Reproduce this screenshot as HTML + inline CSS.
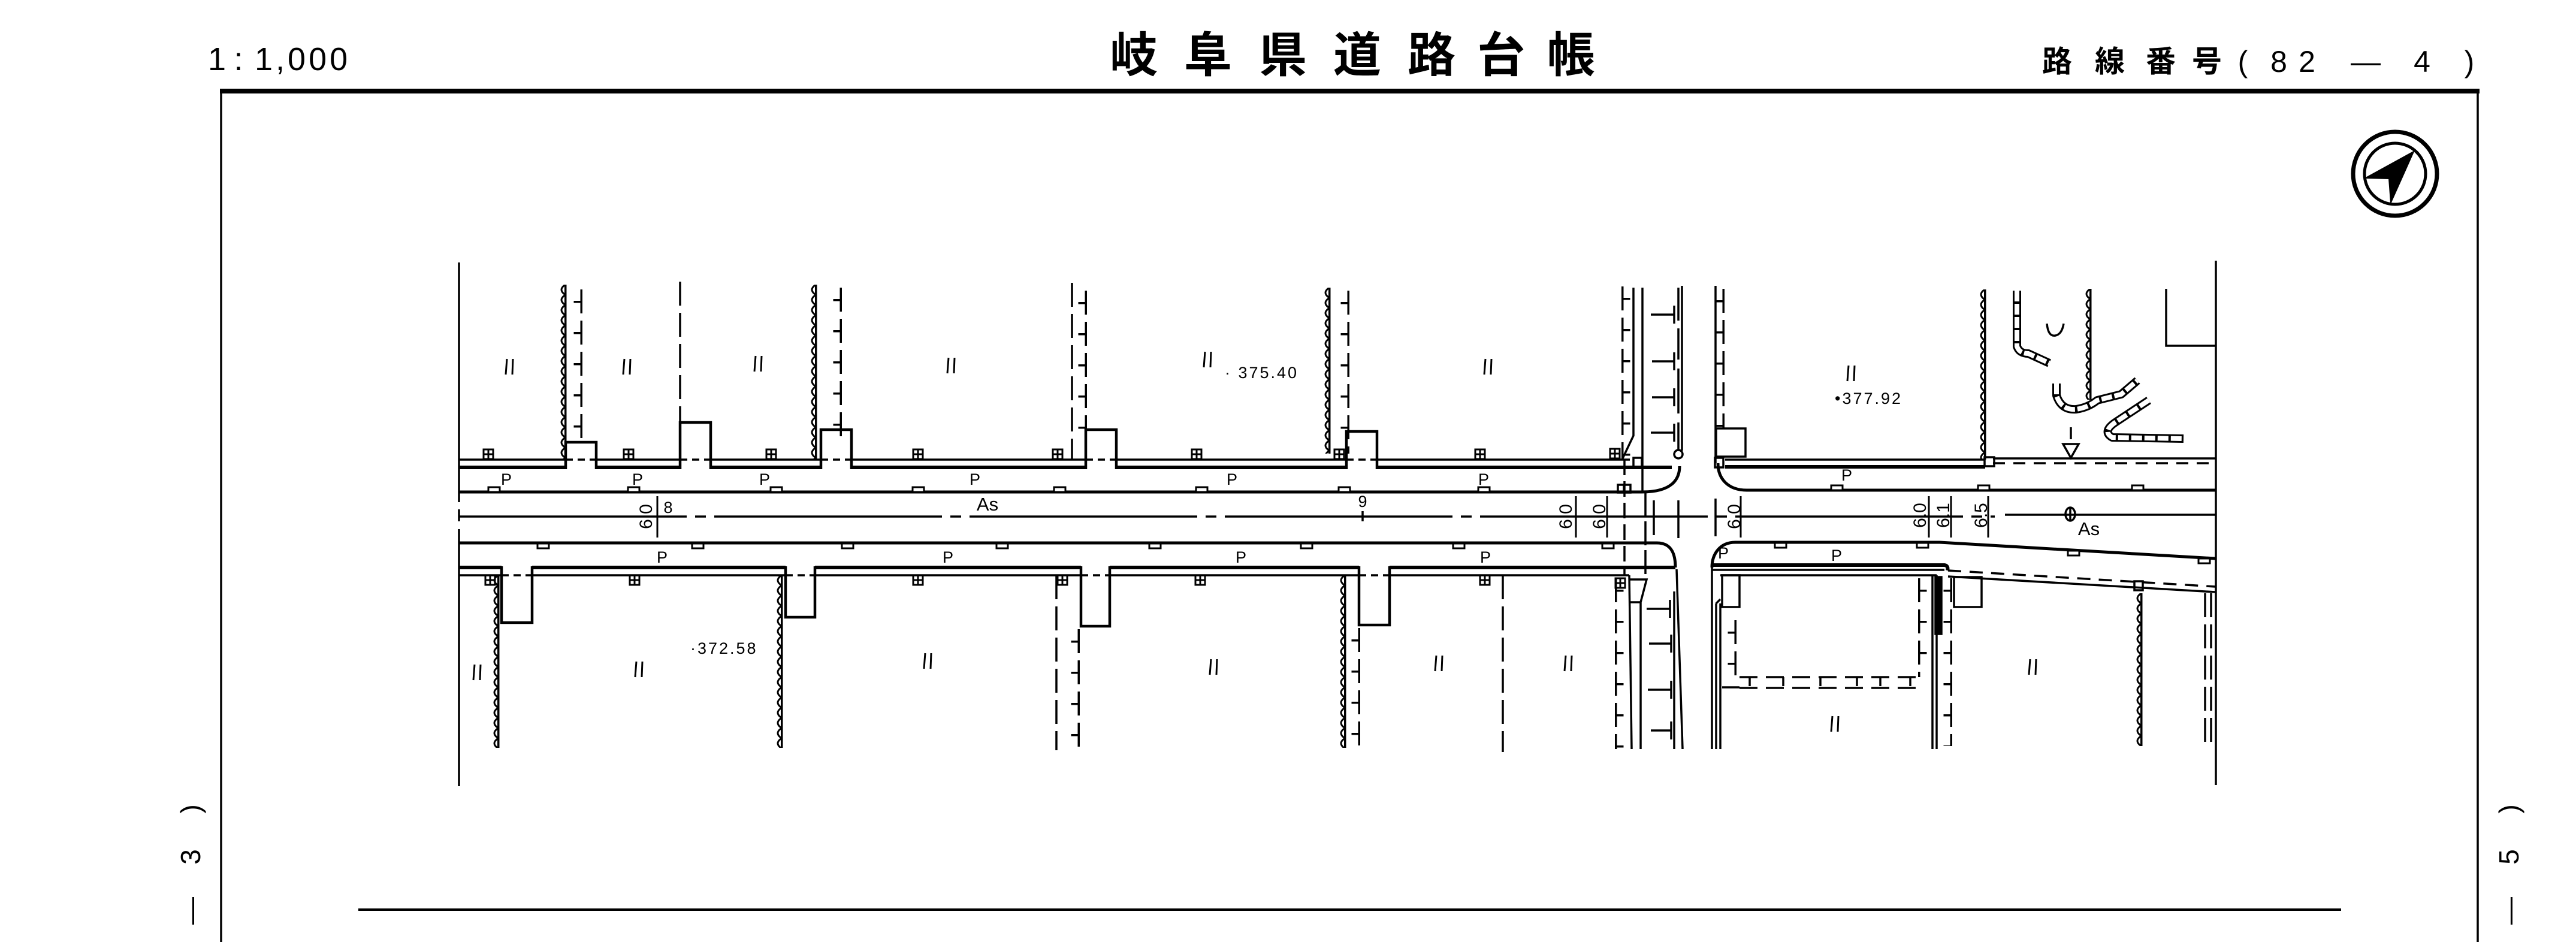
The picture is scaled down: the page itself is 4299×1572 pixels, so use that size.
<!DOCTYPE html>
<html><head><meta charset="utf-8">
<style>
html,body{margin:0;padding:0;background:#fff;}
svg{display:block;}
text{font-family:"Liberation Sans","Noto Sans CJK JP",sans-serif;fill:#000;stroke:none;}
.cjk{font-family:"Liberation Sans","Noto Sans CJK JP",sans-serif;}
</style></head><body>
<svg width="4299" height="1572" viewBox="0 0 4299 1572" xmlns="http://www.w3.org/2000/svg">
<defs>
 <pattern id="hg" patternUnits="userSpaceOnUse" width="14" height="17">
  <path d="M12 0 Q-1 8.5 12 17" fill="none" stroke="#000" stroke-width="3"/>
  <rect x="10.5" y="0" width="3.5" height="17" fill="#000"/>
 </pattern>
 <pattern id="fl" patternUnits="userSpaceOnUse" width="16" height="52">
  <rect x="12" y="5" width="3.5" height="40" fill="#000"/>
  <rect x="1" y="24" width="12" height="3.5" fill="#000"/>
 </pattern>
 <pattern id="fr" patternUnits="userSpaceOnUse" width="16" height="52">
  <rect x="0.5" y="5" width="3.5" height="40" fill="#000"/>
  <rect x="3" y="24" width="12" height="3.5" fill="#000"/>
 </pattern>
 <g id="ta" stroke="#000" stroke-width="3" fill="none">
  <line x1="-6" y1="13" x2="-4" y2="-13"/><line x1="5" y1="13" x2="6" y2="-13"/>
 </g>
 <g id="mh" stroke="#000" stroke-width="3" fill="none">
  <rect x="-8" y="-8" width="16" height="16"/><line x1="0" y1="-8" x2="0" y2="8"/><line x1="-8" y1="0" x2="8" y2="0"/>
 </g>
</defs>

<rect x="0" y="0" width="4299" height="1572" fill="#fff"/>

<!-- header -->
<text x="362" y="117" font-size="54" text-anchor="middle">1</text>
<text x="398" y="117" font-size="54" text-anchor="middle">:</text>
<text x="425" y="117" font-size="54" letter-spacing="5">1,000</text>

<g font-size="80" font-weight="bold" text-anchor="middle" class="cjk">
 <text x="1892" y="120">岐</text><text x="2016" y="120">阜</text><text x="2141" y="120">県</text>
 <text x="2265" y="120">道</text><text x="2389" y="120">路</text><text x="2505" y="120">台</text>
 <text x="2622" y="120">帳</text>
</g>
<g font-size="50" text-anchor="middle" class="cjk" font-weight="bold">
 <text x="3433" y="120">路</text><text x="3521" y="120">線</text><text x="3606" y="120">番</text>
 <text x="3683" y="120">号</text>
</g>
<g font-size="50" text-anchor="middle">
 <text x="3743" y="120">(</text><text x="3803" y="120">8</text>
 <text x="3850" y="120">2</text><text x="3948" y="120">—</text><text x="4042" y="120">4</text>
 <text x="4121" y="120">)</text>
</g>

<!-- frame -->
<g stroke="#000" fill="none">
 <line x1="367" y1="152" x2="4138" y2="152" stroke-width="8"/>
 <line x1="369" y1="150" x2="369" y2="1572" stroke-width="3.5"/>
 <line x1="4135" y1="150" x2="4135" y2="1572" stroke-width="3.5"/>
 <line x1="598" y1="1518" x2="3907" y2="1518" stroke-width="4"/>
</g>

<!-- side rotated texts -->
<g font-size="46" text-anchor="middle">
 <text transform="translate(318,1350) rotate(-90)" x="0" y="16">)</text>
 <text transform="translate(318,1430) rotate(-90)" x="0" y="16">3</text>
 <text transform="translate(318,1520) rotate(-90)" x="0" y="16">—</text>
 <text transform="translate(318,1592) rotate(-90)" x="0" y="16">2</text>
 <text transform="translate(4187,1350) rotate(-90)" x="0" y="16">)</text>
 <text transform="translate(4187,1430) rotate(-90)" x="0" y="16">5</text>
 <text transform="translate(4187,1520) rotate(-90)" x="0" y="16">—</text>
 <text transform="translate(4187,1592) rotate(-90)" x="0" y="16">2</text>
</g>

<!-- compass -->
<g stroke="#000" fill="none">
 <circle cx="3997" cy="290" r="70" stroke-width="7"/>
 <circle cx="3997" cy="290" r="51" stroke-width="5"/>
 <polygon points="4028,253 3948,297 3987,298 3990,338" fill="#000" stroke-width="2"/>
</g>

<!-- MAP -->
<g stroke="#000" fill="none" stroke-width="3.5">
 <!-- borders -->
 <path d="M766 438V838M766 850V870M766 883V1312"/>
 <path d="M3698 435V1310"/>

 <!-- upper building line -->
 <path d="M766 767H944M995 767H1135M1186 767H1370M1421 767H1812M1863 767H2247M2298 767H2720"/>
 <path d="M944 767H995M1135 767H1186M1370 767H1421M1812 767H1863M2247 767H2298" stroke-dasharray="12 8"/>
 <path d="M766 780H944M995 780H1135M1186 780H1370M1421 780H1812M1863 780H2247M2298 780H2790" stroke-width="6"/>
 <path d="M944 783V738H995V783M1135 783V705H1186V783M1370 783V717H1421V783M1812 783V717H1863V783M2247 783V720H2298V783" stroke-width="4.5"/>

 <!-- upper right sidewalk -->
 <path d="M2879 767H3313"/>
 <path d="M2879 779H3313" stroke-width="6"/>
 <path d="M3326 765H3698"/>
 <path d="M3326 773H3698" stroke-dasharray="20 14"/>

 <!-- road edges -->
 <path d="M766 821H2740C2790 821 2803 800 2803 778" stroke-width="5"/>
 <path d="M2867 773C2867 800 2885 818 2915 818H3698" stroke-width="5"/>
 <path d="M766 906H2765C2790 906 2796 925 2796 947" stroke-width="5"/>
 <path d="M2857 947C2857 925 2870 905 2896 905H3237L3697 932" stroke-width="5"/>

 <!-- center line -->
 <path d="M766 862H3329" stroke-dasharray="380 14 18 14"/>
 <path d="M3346 859H3698"/>

 <!-- lower sidewalk -->
 <path d="M766 947H837M888 947H1311M1360 947H1804M1852 947H2268M2319 947H2796" stroke-width="6"/>
 <path d="M766 960H837M888 960H1311M1360 960H1804M1852 960H2268M2319 960H2719"/>
 <path d="M837 960H888M1311 960H1360M1804 960H1852M2268 960H2319" stroke-dasharray="12 8"/>
 <path d="M837 945V1039H888V945M1311 945V1030H1360V945M1804 945V1045H1852V945M2268 945V1043H2319V945" stroke-width="4.5"/>
 <path d="M2857 943H3245Q3252 944 3250 952" stroke-width="6"/>
 <path d="M2857 951H3245"/>
 <path d="M2871 960H3232"/>
 <path d="M3251 952L3697 979" stroke-dasharray="22 14"/>
 <path d="M3251 962L3697 988"/>

 <!-- small boxes -->
 <rect x="2864" y="715" width="49" height="47"/>
 <rect x="2874" y="960" width="29" height="53"/>
 <rect x="3261" y="963" width="46" height="50"/>
 <rect x="2726" y="764" width="14" height="16"/>
 <rect x="2862" y="764" width="14" height="16"/>
 <rect x="3312" y="763" width="16" height="15"/>
 <rect x="3562" y="970" width="14" height="15"/>
 <rect x="2700" y="809" width="21" height="13"/>
 <path d="M2710 809V822"/>
 <circle cx="2801" cy="758" r="7"/>

 <!-- dashed verticals -->
 <g stroke-dasharray="40 12">
  <path d="M1135 470V705"/>
  <path d="M1789 472V767"/>
  <path d="M1763 960V1252"/>
  <path d="M2508 960V1255"/>
  <path d="M3680 990V1245M3690 990V1245"/>
 </g>

 <!-- side road north -->
 <path d="M2726 480V727L2707 767"/>
 <path d="M2741 480V822"/>
 <path d="M2807 477V752"/>
 <path d="M2801 480V535M2801 548V600M2801 615V690M2801 705V750"/>
 <path d="M2755 525H2794M2794 510V540M2757 603H2794M2794 588V618M2757 663H2794M2794 648V678M2755 722H2794M2794 707V737"/>
 <path d="M2863 477V773"/>
 <!-- intersection crossing lines -->
 <path d="M2711 767V960" stroke-dasharray="26 10"/>
 <path d="M2746 822V960" stroke-dasharray="40 8"/>
 <path d="M2760 835V893M2801 835V898M2863 832V895"/>
 <!-- width label ticks -->
 <path d="M1097 828V897M2630 828V897M2682 828V897M2905 828V897M3219 828V897M3256 828V897M3318 828V897" stroke-width="3"/>
 <path d="M2274 853V870"/>

 <!-- side road south -->
 <path d="M2719 960L2723 1250"/>
 <path d="M2719 967H2748L2738 1005V1250M2719 1005H2738"/>
 <path d="M2794 987V1250"/>
 <path d="M2798 950L2808 1250"/>
 <path d="M2748 1016H2787M2787 1001V1031M2752 1074H2789M2789 1059V1089M2750 1151H2789M2789 1136V1166M2755 1219H2789M2789 1204V1234"/>
 <path d="M2857 947V1250M2864 1007V1250M2871 1007V1250M2864 1007L2871 1000"/>

 <!-- lower right parcels -->
 <path d="M2903 1130H3203M2903 1148H3203" stroke-dasharray="30 14"/>
 <path d="M2874 1147H2903"/>
 <path d="M2920 1130V1145M2976 1130V1145M3038 1130V1145M3099 1130V1145M3138 1130V1145M3188 1130V1145"/>
 <path d="M3225 960V1250M3232 960V1250"/>
 <rect x="3230" y="963" width="10" height="95" fill="#000"/>

 <!-- top right features -->
 <path d="M3615 482V577H3697"/>
 <polygon points="3443,741 3469,741 3456,764"/>
 <path d="M3456 713V733"/>
 <ellipse cx="3455" cy="858" rx="8" ry="11"/>
 <path d="M3455 846V870"/>
 <path d="M3416 540Q3418 562 3430 560Q3441 558 3444 540"/>

 <!-- chain hedges -->
 <g stroke-width="14" stroke-linejoin="round">
  <path d="M3366 485V578Q3370 590 3385 590L3420 606"/>
  <path d="M3432 640V660Q3440 685 3465 683Q3485 680 3500 668L3540 658L3567 635"/>
  <path d="M3586 668L3530 705Q3508 720 3525 730L3644 732"/>
 </g>
 <g stroke-width="8" stroke="#fff" stroke-dasharray="18 4">
  <path d="M3366 485V578Q3370 590 3385 590L3420 606"/>
  <path d="M3432 640V660Q3440 685 3465 683Q3485 680 3500 668L3540 658L3567 635"/>
  <path d="M3586 668L3530 705Q3508 720 3525 730L3644 732"/>
 </g>
</g>

<!-- hedges (scalloped) -->
<g>
 <rect transform="translate(931.5,475)" width="14" height="292" fill="url(#hg)"/>
 <rect transform="translate(1349.5,475)" width="14" height="292" fill="url(#hg)"/>
 <rect transform="translate(2206.5,480)" width="14" height="277" fill="url(#hg)"/>
 <rect transform="translate(3300.5,483)" width="14" height="284" fill="url(#hg)"/>
 <rect transform="translate(3476.5,482)" width="14" height="185" fill="url(#hg)"/>
 <rect transform="translate(819.5,960)" width="14" height="288" fill="url(#hg)"/>
 <rect transform="translate(1292.5,960)" width="14" height="288" fill="url(#hg)"/>
 <rect transform="translate(2232.5,960)" width="14" height="288" fill="url(#hg)"/>
 <rect transform="translate(3561.5,990)" width="14" height="255" fill="url(#hg)"/>
</g>

<!-- fences -->
<g>
 <rect transform="translate(956.5,478)" width="16" height="257" fill="url(#fl)"/>
 <rect transform="translate(1389.5,475)" width="16" height="260" fill="url(#fl)"/>
 <rect transform="translate(1798.5,480)" width="16" height="280" fill="url(#fl)"/>
 <rect transform="translate(2236.5,480)" width="16" height="277" fill="url(#fl)"/>
 <rect transform="translate(2705.5,473)" width="16" height="294" fill="url(#fr)"/>
 <rect transform="translate(2862.5,477)" width="16" height="238" fill="url(#fl)"/>
 <rect transform="translate(1786.5,1045)" width="16" height="207" fill="url(#fl)"/>
 <rect transform="translate(2254.5,1043)" width="16" height="207" fill="url(#fl)"/>
 <rect transform="translate(2694.5,960)" width="16" height="290" fill="url(#fr)"/>
 <rect transform="translate(2882.5,1030)" width="16" height="100" fill="url(#fl)"/>
 <rect transform="translate(3200.5,960)" width="16" height="170" fill="url(#fr)"/>
 <rect transform="translate(3242.5,960)" width="16" height="285" fill="url(#fl)"/>
</g>

<!-- curb rectangles -->
<g stroke="#000" fill="#fff" stroke-width="3">
 <rect x="815" y="813" width="19" height="8"/><rect x="1048" y="813" width="19" height="8"/>
 <rect x="1286" y="813" width="19" height="8"/><rect x="1523" y="813" width="19" height="8"/>
 <rect x="1759" y="813" width="19" height="8"/><rect x="1996" y="813" width="19" height="8"/>
 <rect x="2234" y="813" width="19" height="8"/><rect x="2467" y="813" width="19" height="8"/>
 <rect x="3056" y="810" width="19" height="8"/><rect x="3301" y="810" width="19" height="8"/>
 <rect x="3558" y="810" width="19" height="8"/>
 <rect x="897" y="907" width="19" height="8"/><rect x="1155" y="907" width="19" height="8"/>
 <rect x="1405" y="907" width="19" height="8"/><rect x="1663" y="907" width="19" height="8"/>
 <rect x="1918" y="907" width="19" height="8"/><rect x="2171" y="907" width="19" height="8"/>
 <rect x="2425" y="907" width="19" height="8"/><rect x="2674" y="907" width="19" height="8"/>
 <rect x="2962" y="906" width="19" height="8"/><rect x="3199" y="906" width="19" height="8"/>
 <rect x="3451" y="919" width="19" height="8"/><rect x="3669" y="932" width="19" height="8"/>
</g>

<!-- manholes -->
<g>
 <use href="#mh" x="815" y="758"/><use href="#mh" x="1049" y="758"/><use href="#mh" x="1287" y="758"/>
 <use href="#mh" x="1532" y="758"/><use href="#mh" x="1765" y="758"/><use href="#mh" x="1997" y="758"/>
 <use href="#mh" x="2235" y="758"/><use href="#mh" x="2470" y="758"/><use href="#mh" x="2695" y="757"/>
 <use href="#mh" x="818" y="968"/><use href="#mh" x="1059" y="968"/><use href="#mh" x="1532" y="968"/>
 <use href="#mh" x="1773" y="968"/><use href="#mh" x="2003" y="968"/><use href="#mh" x="2478" y="968"/>
 <use href="#mh" x="2704" y="973"/>
</g>

<!-- paddy symbols -->
<g>
 <use href="#ta" x="850" y="612"/><use href="#ta" x="1046" y="612"/><use href="#ta" x="1265" y="607"/>
 <use href="#ta" x="1587" y="610"/><use href="#ta" x="2015" y="600"/><use href="#ta" x="2483" y="612"/>
 <use href="#ta" x="3089" y="623"/>
 <use href="#ta" x="796" y="1122"/><use href="#ta" x="1066" y="1117"/><use href="#ta" x="1548" y="1103"/>
 <use href="#ta" x="2025" y="1113"/><use href="#ta" x="2401" y="1107"/><use href="#ta" x="2617" y="1107"/>
 <use href="#ta" x="3062" y="1208"/><use href="#ta" x="3392" y="1113"/>
</g>

<!-- P labels -->
<g font-size="27" text-anchor="middle">
 <text x="845" y="809">P</text><text x="1064" y="809">P</text><text x="1276" y="809">P</text>
 <text x="1627" y="809">P</text><text x="2056" y="809">P</text><text x="2476" y="809">P</text>
 <text x="3082" y="802">P</text>
 <text x="1105" y="939">P</text><text x="1582" y="939">P</text><text x="2071" y="939">P</text>
 <text x="2479" y="939">P</text><text x="2876" y="932">P</text><text x="3065" y="936">P</text>
</g>

<!-- road labels -->
<g font-size="31" text-anchor="middle">
 <text x="1648" y="852">As</text>
 <text x="3486" y="893">As</text>
</g>
<g font-size="27" text-anchor="middle">
 <text x="1115" y="856">8</text>
 <text x="2274" y="846">9</text>
</g>

<!-- elevations -->
<g font-size="27" letter-spacing="3">
 <text x="2044" y="631">· 375.40</text>
 <text x="3062" y="674">•377.92</text>
 <text x="1152" y="1091">·372.58</text>
</g>

<!-- rotated width labels -->
<g font-size="30" text-anchor="middle">
 <text transform="translate(1077,862) rotate(-90)" x="0" y="11">6.0</text>
 <text transform="translate(2612,862) rotate(-90)" x="0" y="11">6.0</text>
 <text transform="translate(2668,862) rotate(-90)" x="0" y="11">6.0</text>
 <text transform="translate(2893,862) rotate(-90)" x="0" y="11">6.0</text>
 <text transform="translate(3203,860) rotate(-90)" x="0" y="11">6.0</text>
 <text transform="translate(3242,860) rotate(-90)" x="0" y="11">6.1</text>
 <text transform="translate(3305,860) rotate(-90)" x="0" y="11">6.5</text>
</g>
</svg>
</body></html>
